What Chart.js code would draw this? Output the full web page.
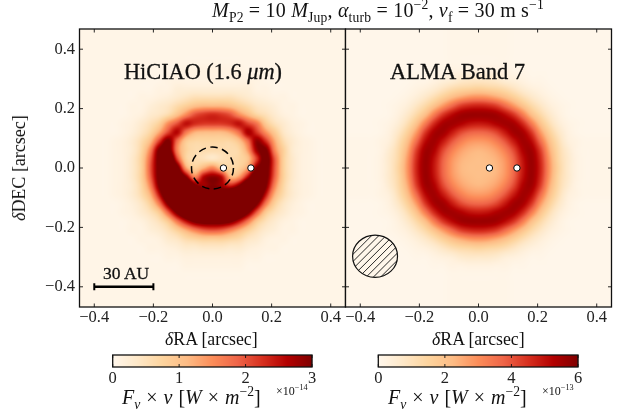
<!DOCTYPE html>
<html>
<head>
<meta charset="utf-8">
<script src="https://cdn.jsdelivr.net/npm/chart.js@4"></script>
<style>
  html, body { margin: 0; padding: 0; background: #fff; }
  #page { position: relative; width: 628px; height: 412px; overflow: hidden; font-family: "Liberation Serif", serif; color: #111; }
  canvas { position: absolute; left: 0; top: 0; }
  .txt { position: absolute; white-space: nowrap; line-height: 1; z-index: 5; }
  .txt sub, .txt sup { font-size: 68%; line-height: 0; }
  .small { font-size: 12px; }
  .heavy { -webkit-text-stroke: 0.3px #111; }
</style>
</head>
<body>
<div id="page">
  <canvas id="hiciao" width="628" height="412"></canvas>
  <canvas id="alma" width="628" height="412"></canvas>
  <canvas id="cbarLeft" width="628" height="412"></canvas>
  <canvas id="cbarRight" width="628" height="412"></canvas>

  <div class="txt" style="left:212px;top:0px;font-size:20px;letter-spacing:.2px"><i>M</i><sub>P2</sub> = 10 <i>M</i><sub>Jup</sub>, <i>α</i><sub>turb</sub> = 10<sup>−2</sup>, <i>v</i><sub>f</sub> = 30 m s<sup>−1</sup></div>
  <div class="txt heavy" style="left:124px;top:61px;font-size:22.3px">HiCIAO (1.6 <i>μm</i>)</div>
  <div class="txt heavy" style="left:390px;top:61px;font-size:22.5px">ALMA Band 7</div>
  <div class="txt heavy" style="left:103px;top:265px;font-size:17.5px">30 AU</div>
  <div class="txt" style="left:165px;top:331px;font-size:17.8px"><i>δ</i>RA [arcsec]</div>
  <div class="txt" style="left:432px;top:331px;font-size:17.8px"><i>δ</i>RA [arcsec]</div>
  <div class="txt" style="left:19px;top:168px;font-size:18px;transform:translate(-50%,-50%) rotate(-90deg)"><i>δ</i>DEC [arcsec]</div>
  <div class="txt" style="left:122px;top:387px;font-size:20px;word-spacing:1px"><i>F<sub>ν</sub></i> × <i>ν</i> [<i>W</i> × <i>m</i><sup>−2</sup>]</div>
  <div class="txt" style="left:388px;top:387px;font-size:20px;word-spacing:1px"><i>F<sub>ν</sub></i> × <i>ν</i> [<i>W</i> × <i>m</i><sup>−2</sup>]</div>
  <div class="txt small" style="left:276px;top:385px">×10<sup>−14</sup></div>
  <div class="txt small" style="left:542px;top:385px">×10<sup>−13</sup></div>
</div>

<script>
// --- data ---
const skyTicks = [-0.4, -0.2, 0, 0.2, 0.4];
const cbarTicksLeft = [0, 1, 2, 3];
const cbarTicksRight = [0, 2, 4, 6];
const planetRA = [0.037, 0.13];
const planetDEC = [0, 0];
const scaleBarRA = [-0.4, -0.2];
const scaleBarDEC = [-0.4, -0.4];

// colormap (OrRd)
const orRd = ['#fff7ec', '#fee8c8', '#fdd49e', '#fdbb84', '#fc8d59', '#ef6548', '#d7301f', '#b30000', '#7f0000'];

// image grids: first row is DEC = +0.36, first column is RA = -0.36, step 0.03
const gridStart = -0.36;
const gridStep = 0.03;

// HiCIAO flux, in units of 1e-15
const hiciaoRows = [
  [.5,.5,.5,.5,.5,.5,.5,.5,.5,.5,.5,.5,.5,.5,.5,.5,.5,.5,.5,.5,.5,.5,.5,.5,.5],
  [.5,.5,.5,.5,.5,.5,.5,.5,.5,1,1,1,1,1,1,1,.5,.5,.5,.5,.5,.5,.5,.5,.5],
  [.5,.5,.5,.5,.5,.5,.5,1,1,1,1,1,1,1,1,1,1,1,.5,.5,.5,.5,.5,.5,.5],
  [.5,.5,.5,.5,.5,.5,1,1,2,2,2,2,2,2,2,2,2,1,1,.5,.5,.5,.5,.5,.5],
  [.5,.5,.5,.5,1,1,1.5,2,3,4,5,5,5,5,5,4,3,2,1.5,1,1,.5,.5,.5,.5],
  [.5,.5,.5,1,1,2,3,4,6,8,10,11,11,11,10,8,6,4,3,2,1,1,.5,.5,.5],
  [.5,.5,.5,1,1.5,3,4,6,10,15,20,22,23,22,20,15,11,7,5,3,1.5,1,.5,.5,.5],
  [.5,.5,1,1.5,3,5,8,15,20,25,23,22,22,22,23,25,21,17,9,5,3,1.5,1,.5,.5],
  [.5,.5,1,2,4,7,13,21,26,17,12,11,11,11,13,18,27,22,15,9,4,2,1,.5,.5],
  [.5,1,1.5,3,6,11,22,31,18,9,7,7,7,7,7,10,18,29,23,13,6,3,1.5,1,.5],
  [.5,1,1.5,3,7,16,31,34,16,8,6,6,6,6,6,7,14,28,31,16,8,3,1.5,1,.5],
  [.5,1,1.5,3.5,8,19,33,42,22,8,6,5,4,5,6,7,10,22,33,20,8,3.5,1.5,1,.5],
  [.5,1,1.5,3.5,8,20,33,45,34,14,8,12,16,10,7,8,14,30,33,20,8,3.5,1.5,1,.5],
  [.5,1,1.5,3.5,8,19,33,45,40,30,16,26,29,26,12,14,26,40,33,19,8,3.5,1.5,1,.5],
  [.5,1,1.5,3,7,16,31,45,45,45,32,28,30,28,24,30,42,45,31,16,7,3,1.5,1,.5],
  [.5,1,1.5,3,6,12,25,40,45,45,40,36,34,36,42,45,45,40,25,12,6,3,1.5,1,.5],
  [.5,.5,1,2,4,8,17,31,42,45,45,45,45,45,45,45,42,31,17,8,4,2,1,.5,.5],
  [.5,.5,1,1.5,3,5,9,19,31,40,45,45,45,45,45,40,31,19,9,5,3,1.5,1,.5,.5],
  [.5,.5,.5,1,1.5,3,5,9,17,25,31,33,33,33,31,25,17,9,5,3,1.5,1,.5,.5,.5],
  [.5,.5,.5,1,1,2,3,5,8,12,16,19,20,19,16,12,8,5,3,2,1,1,.5,.5,.5],
  [.5,.5,.5,.5,1,1,1.5,3,4,6,7,8,8,8,7,6,4,3,1.5,1,1,.5,.5,.5,.5],
  [.5,.5,.5,.5,.5,1,1,1.5,2,3,3,3.5,3.5,3.5,3,3,2,1.5,1,1,.5,.5,.5,.5,.5],
  [.5,.5,.5,.5,.5,.5,.5,1,1,1.5,1.5,1.5,1.5,1.5,1.5,1.5,1,1,.5,.5,.5,.5,.5,.5,.5],
  [.5,.5,.5,.5,.5,.5,.5,.5,.5,1,1,1,1,1,1,1,.5,.5,.5,.5,.5,.5,.5,.5,.5],
  [.5,.5,.5,.5,.5,.5,.5,.5,.5,.5,.5,.5,.5,.5,.5,.5,.5,.5,.5,.5,.5,.5,.5,.5,.5]
];

// ALMA flux, in units of 1e-14
const almaRows = [
  [.5,.5,.5,.5,.5,.5,.5,.5,.5,1,1,1,1,1,1,1,.5,.5,.5,.5,.5,.5,.5,.5,.5],
  [.5,.5,.5,.5,.5,.5,.5,1,1,2,2,2.5,2.5,2.5,2,2,1,1,.5,.5,.5,.5,.5,.5,.5],
  [.5,.5,.5,.5,.5,1,1,2,3,4,6,7,7,7,6,4,3,2,1,1,.5,.5,.5,.5,.5],
  [.5,.5,.5,.5,1,2,3,5,8,11,13,14,15,14,13,11,8,5,3,2,1,.5,.5,.5,.5],
  [.5,.5,.5,1,2,4,7,11,16,21,25,28,29,28,25,21,16,11,7,4,2,1,.5,.5,.5],
  [.5,.5,1,2,4,8,13,20,28,36,43,46,47,46,43,36,28,20,13,8,4,2,1,.5,.5],
  [.5,.5,1,3,7,13,21,33,44,51,55,56,56,56,55,51,44,33,21,13,7,3,1,.5,.5],
  [.5,1,2,5,11,20,33,46,54,55,53,50,49,50,53,55,54,46,33,20,11,5,2,1,.5],
  [.5,1,3,8,16,28,44,54,55,49,42,38,37,38,42,49,55,54,44,28,16,8,3,1,.5],
  [1,2,4,11,21,36,51,55,49,40,33,29,28,29,33,40,49,55,51,36,21,11,4,2,1],
  [1,2,6,13,25,43,55,53,42,33,27,24,23,24,27,33,42,53,55,43,25,13,6,2,1],
  [1,2.5,7,14,28,46,56,50,38,29,24,22,21,22,24,29,38,50,56,46,28,14,7,2.5,1],
  [1,2.5,7,15,29,47,56,49,37,28,23,21,21,21,23,28,37,49,56,47,29,15,7,2.5,1],
  [1,2.5,7,14,28,46,56,50,38,29,24,22,21,22,24,29,38,50,56,46,28,14,7,2.5,1],
  [1,2,6,13,25,43,55,53,42,33,27,24,23,24,27,33,42,53,55,43,25,13,6,2,1],
  [1,2,4,11,21,36,51,55,49,40,33,29,28,29,33,40,49,55,51,36,21,11,4,2,1],
  [.5,1,3,8,16,28,44,54,55,49,42,38,37,38,42,49,55,54,44,28,16,8,3,1,.5],
  [.5,1,2,5,11,20,33,46,54,55,53,50,49,50,53,55,54,46,33,20,11,5,2,1,.5],
  [.5,.5,1,3,7,13,21,33,44,51,55,56,56,56,55,51,44,33,21,13,7,3,1,.5,.5],
  [.5,.5,1,2,4,8,13,20,28,36,43,46,47,46,43,36,28,20,13,8,4,2,1,.5,.5],
  [.5,.5,.5,1,2,4,7,11,16,21,25,28,29,28,25,21,16,11,7,4,2,1,.5,.5,.5],
  [.5,.5,.5,.5,1,2,3,5,8,11,13,14,15,14,13,11,8,5,3,2,1,.5,.5,.5,.5],
  [.5,.5,.5,.5,.5,1,1,2,3,4,6,7,7,7,6,4,3,2,1,1,.5,.5,.5,.5,.5],
  [.5,.5,.5,.5,.5,.5,.5,1,1,2,2,2.5,2.5,2.5,2,2,1,1,.5,.5,.5,.5,.5,.5,.5],
  [.5,.5,.5,.5,.5,.5,.5,.5,.5,1,1,1,1,1,1,1,.5,.5,.5,.5,.5,.5,.5,.5,.5]
];

// --- colour helpers ---
const cmapRgb = orRd.map(h => [1, 3, 5].map(i => parseInt(h.substr(i, 2), 16)));
function cmap(t) {
  const p = Math.min(Math.max(t, 0), 1) * (cmapRgb.length - 1);
  const i = Math.min(Math.floor(p), cmapRgb.length - 2);
  const f = p - i;
  return cmapRgb[i].map((c, k) => c + (cmapRgb[i + 1][k] - c) * f);
}

// bicubic lookup in a grid, the same thing imshow does with its interpolation
function cubic(a, b, c, d, f) {
  return b + 0.5 * f * (c - a + f * (2 * a - 5 * b + 4 * c - d + f * (3 * (b - c) + d - a)));
}
function sampleGrid(rows, fx, fy) {
  const n = rows.length;
  const at = (i, j) => rows[Math.min(Math.max(i, 0), n - 1)][Math.min(Math.max(j, 0), n - 1)];
  const ix = Math.floor(fx), iy = Math.floor(fy);
  const col = [];
  for (let k = -1; k <= 2; k++) {
    col.push(cubic(at(iy + k, ix - 1), at(iy + k, ix), at(iy + k, ix + 1), at(iy + k, ix + 2), fx - ix));
  }
  return cubic(col[0], col[1], col[2], col[3], fy - iy);
}

// --- plugins ---
function heatPlugin(rows, vmax) {
  return {
    id: 'heat',
    beforeDatasetsDraw(chart) {
      const { left, top, width, height } = chart.chartArea;
      const w = Math.ceil(width), h = Math.ceil(height);
      const off = document.createElement('canvas');
      off.width = w; off.height = h;
      const octx = off.getContext('2d');
      const img = octx.createImageData(w, h);
      for (let py = 0; py < h; py++) {
        const dec = chart.scales.y.getValueForPixel(top + py + 0.5);
        const fy = (-dec - gridStart) / gridStep;
        for (let px = 0; px < w; px++) {
          const ra = chart.scales.x.getValueForPixel(left + px + 0.5);
          const fx = (ra - gridStart) / gridStep;
          const rgb = cmap(sampleGrid(rows, fx, fy) / vmax);
          const o = (py * w + px) * 4;
          img.data[o] = rgb[0]; img.data[o + 1] = rgb[1]; img.data[o + 2] = rgb[2]; img.data[o + 3] = 255;
        }
      }
      octx.putImageData(img, 0, 0);
      chart.ctx.drawImage(off, left, top, width, height);
    }
  };
}

// inward ticks on all four sides plus the box
const framePlugin = {
  id: 'frame',
  afterDatasetsDraw(chart) {
    const { left, right, top, bottom } = chart.chartArea;
    const ctx = chart.ctx;
    const len = 3.5;
    ctx.save();
    ctx.strokeStyle = '#111';
    ctx.lineWidth = 0.9;
    chart.scales.x.ticks.forEach(t => {
      const x = chart.scales.x.getPixelForValue(t.value);
      ctx.beginPath();
      ctx.moveTo(x, top); ctx.lineTo(x, top + len);
      ctx.moveTo(x, bottom); ctx.lineTo(x, bottom - len);
      ctx.stroke();
    });
    chart.scales.y.ticks.forEach(t => {
      const y = chart.scales.y.getPixelForValue(t.value);
      ctx.beginPath();
      ctx.moveTo(left, y); ctx.lineTo(left + len, y);
      ctx.moveTo(right, y); ctx.lineTo(right - len, y);
      ctx.stroke();
    });
    ctx.lineWidth = 1.3;
    ctx.strokeRect(left, top, right - left, bottom - top);
    ctx.restore();
  }
};

// dashed circle round the star
const coronagraph = { ra: 0, dec: 0, radius: 0.071 };
const circlePlugin = {
  id: 'circle',
  beforeDatasetsDraw(chart) {
    const xs = chart.scales.x, ys = chart.scales.y;
    const ctx = chart.ctx;
    ctx.save();
    ctx.strokeStyle = '#000';
    ctx.lineWidth = 1.5;
    ctx.setLineDash([7.5, 4.5]);
    ctx.beginPath();
    ctx.arc(xs.getPixelForValue(coronagraph.ra), ys.getPixelForValue(coronagraph.dec),
      xs.getPixelForValue(coronagraph.radius) - xs.getPixelForValue(0), 0, Math.PI * 2);
    ctx.stroke();
    ctx.restore();
  }
};

// synthesized beam, hatched
const beam = { ra: -0.35, dec: -0.297, rx: 0.076, ry: 0.071 };
const beamPlugin = {
  id: 'beam',
  afterDatasetsDraw(chart) {
    const xs = chart.scales.x, ys = chart.scales.y;
    const ctx = chart.ctx;
    const cx = xs.getPixelForValue(beam.ra), cy = ys.getPixelForValue(beam.dec);
    const rx = xs.getPixelForValue(beam.rx) - xs.getPixelForValue(0);
    const ry = ys.getPixelForValue(0) - ys.getPixelForValue(beam.ry);
    ctx.save();
    ctx.beginPath();
    ctx.ellipse(cx, cy, rx, ry, 0, 0, Math.PI * 2);
    ctx.clip();
    ctx.strokeStyle = '#111';
    ctx.lineWidth = 0.9;
    for (let d = -60; d <= 60; d += 7.2) {
      ctx.beginPath();
      ctx.moveTo(cx + d - 40, cy + 40);
      ctx.lineTo(cx + d + 40, cy - 40);
      ctx.stroke();
    }
    ctx.restore();
    ctx.save();
    ctx.strokeStyle = '#111';
    ctx.lineWidth = 1.2;
    ctx.beginPath();
    ctx.ellipse(cx, cy, rx, ry, 0, 0, Math.PI * 2);
    ctx.stroke();
    ctx.restore();
  }
};

// colour bar strip read back through the x scale
function cbarPlugin(vmax) {
  return {
    id: 'cbar',
    beforeDatasetsDraw(chart) {
      const { left, right, top, bottom } = chart.chartArea;
      const ctx = chart.ctx;
      for (let px = Math.floor(left); px < right; px++) {
        const rgb = cmap(chart.scales.x.getValueForPixel(px + 0.5) / vmax);
        ctx.fillStyle = `rgb(${rgb[0]},${rgb[1]},${rgb[2]})`;
        ctx.fillRect(px, top, 1.2, bottom - top);
      }
      ctx.save();
      ctx.strokeStyle = '#111';
      ctx.lineWidth = 0.9;
      chart.scales.x.ticks.forEach(t => {
        const x = chart.scales.x.getPixelForValue(t.value);
        ctx.beginPath();
        ctx.moveTo(x, top); ctx.lineTo(x, top + 3);
        ctx.moveTo(x, bottom); ctx.lineTo(x, bottom - 3);
        ctx.stroke();
      });
      ctx.lineWidth = 1.3;
      ctx.strokeRect(left, top, right - left, bottom - top);
      ctx.restore();
    }
  };
}

// --- charts ---
const tickFont = { family: '"Liberation Serif", serif', size: 16.5 };
const xAxisBox = 24;   // room kept for x tick labels, labels get clipped to the scale box
const yAxisBox = 50;

function padFor(box, w, h) {
  return { left: box.left - w, top: box.top, right: 628 - box.right, bottom: 412 - box.bottom - h };
}
function fmtSky(v) { return (v < 0 ? '\u2212' : '') + Math.abs(v).toFixed(1); }

function createPanel(id, box, rows, vmax, extra, showY) {
  const yBox = showY ? yAxisBox : 0;
  const datasets = [{
    data: planetRA.map((x, i) => ({ x: x, y: planetDEC[i] })),
    showLine: false, pointRadius: 3.2, pointBackgroundColor: '#fff',
    pointBorderColor: '#000', pointBorderWidth: 1, order: 1
  }];
  if (extra.scaleBar) {
    datasets.push({
      data: scaleBarRA.map((x, i) => ({ x: x, y: scaleBarDEC[i] })),
      showLine: true, borderColor: '#000', borderWidth: 2.5,
      pointStyle: 'line', pointRotation: 90, pointRadius: 3.5,
      pointBorderColor: '#000', pointBorderWidth: 2, order: 2
    });
  }
  return new Chart(document.getElementById(id), {
    type: 'scatter',
    data: { datasets: datasets },
    plugins: [heatPlugin(rows, vmax)].concat(extra.plugins, [framePlugin]),
    options: {
      responsive: false, animation: false, events: [],
      layout: { padding: padFor(box, yBox, xAxisBox) },
      plugins: { legend: { display: false }, tooltip: { enabled: false } },
      scales: {
        x: {
          type: 'linear', min: -0.45, max: 0.45,
          afterFit: s => { s.height = xAxisBox; },
          afterBuildTicks: s => { s.ticks = skyTicks.map(v => ({ value: v })); },
          grid: { display: false, drawTicks: false },
          border: { display: false },
          ticks: { color: '#222', font: tickFont, padding: 1, maxRotation: 0, autoSkip: false, callback: fmtSky }
        },
        y: {
          type: 'linear', min: -0.468, max: 0.468,
          afterFit: s => { s.width = yBox; },
          afterBuildTicks: s => { s.ticks = skyTicks.map(v => ({ value: v })); },
          grid: { display: false, drawTicks: false },
          border: { display: false },
          ticks: { display: showY, color: '#222', font: tickFont, padding: 4.5, autoSkip: false, callback: fmtSky }
        }
      }
    }
  });
}

function createColorbar(id, box, ticks, vmax) {
  return new Chart(document.getElementById(id), {
    type: 'scatter',
    data: { datasets: [{ data: [], pointRadius: 0 }] },
    plugins: [cbarPlugin(vmax)],
    options: {
      responsive: false, animation: false, events: [],
      layout: { padding: padFor(box, 0, xAxisBox) },
      plugins: { legend: { display: false }, tooltip: { enabled: false } },
      scales: {
        x: {
          type: 'linear', min: 0, max: vmax,
          afterFit: s => { s.height = xAxisBox; },
          afterBuildTicks: s => { s.ticks = ticks.map(v => ({ value: v })); },
          grid: { display: false, drawTicks: false },
          border: { display: false },
          ticks: { color: '#222', font: tickFont, padding: 2, maxRotation: 0, autoSkip: false, callback: v => String(v) }
        },
        y: { type: 'linear', min: 0, max: 1, display: false }
      }
    }
  });
}

createPanel('hiciao', { left: 79.5, right: 345.5, top: 29, bottom: 307 }, hiciaoRows, 30,
  { scaleBar: true, plugins: [circlePlugin] }, true);
createPanel('alma', { left: 345.5, right: 611.5, top: 29, bottom: 307 }, almaRows, 60,
  { scaleBar: false, plugins: [beamPlugin] }, false);
createColorbar('cbarLeft', { left: 112.7, right: 312, top: 355, bottom: 367 }, cbarTicksLeft, 3);
createColorbar('cbarRight', { left: 378.3, right: 578, top: 355, bottom: 367 }, cbarTicksRight, 6);
</script>
</body>
</html>
